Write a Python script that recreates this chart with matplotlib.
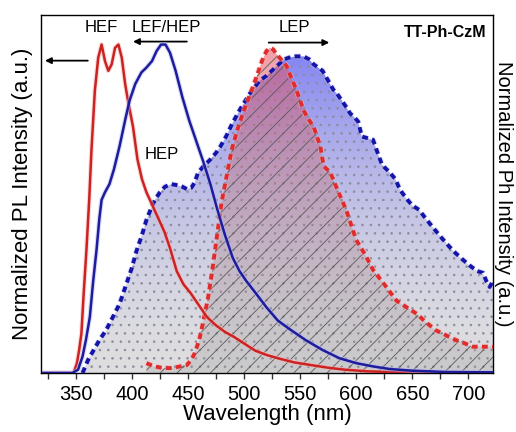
import numpy as np
import matplotlib.pyplot as plt
import matplotlib.patheffects as pe

plt.rcParams['font.family'] = ['Liberation Sans', 'DejaVu Sans']
plt.rcParams['hatch.linewidth'] = 0.6

# PL, fluorescence (red solid, HEF)
wl_hef = [320, 348, 351, 353, 355, 357, 359.5, 362, 364, 367, 370, 373, 376, 379, 382, 385, 388,
          391, 394, 397, 401, 405, 409, 413, 417, 421, 425, 429, 434, 440, 446, 452, 459, 467,
          475, 483, 491, 500, 510, 520, 530, 545, 560, 575, 590, 610, 640, 680, 722]
pl_hef = [0, 0, 0.03, 0.07, 0.12, 0.24, 0.375, 0.53, 0.68, 0.86, 0.96, 1.0, 0.95, 0.92, 0.94, 0.99, 1.0,
          0.96, 0.88, 0.82, 0.75, 0.65, 0.59, 0.55, 0.52, 0.49, 0.46, 0.43, 0.38, 0.31, 0.27, 0.245, 0.21, 0.17,
          0.145, 0.125, 0.11, 0.09, 0.068, 0.055, 0.045, 0.032, 0.024, 0.016, 0.01, 0.005, 0.002, 0.0, 0.0]

# PL (blue solid, LEF/HEP)
wl_lef = [320, 347, 352, 356, 359, 362.5, 365.5, 368.5, 371, 373, 376, 380, 384, 389, 394, 398, 403,
          408.5, 413, 418, 422, 426, 430, 434, 439, 445, 451, 458, 464, 470, 476, 483, 490, 496, 502,
          510, 520, 530, 540, 555, 570, 585, 600, 615, 630, 650, 680, 722]
pl_lef = [0, 0, 0.01, 0.05, 0.1, 0.17, 0.28, 0.375, 0.47, 0.527, 0.55, 0.575, 0.62, 0.69, 0.77, 0.83, 0.88,
          0.915, 0.93, 0.95, 0.98, 1.0, 1.0, 0.975, 0.92, 0.84, 0.77, 0.70, 0.64, 0.575, 0.50, 0.42, 0.35, 0.31, 0.28,
          0.245, 0.2, 0.16, 0.135, 0.10, 0.07, 0.045, 0.03, 0.02, 0.012, 0.007, 0.003, 0.002]

# phosphorescence (blue dashed, HEP + LEP)
wl_ph_b = [356, 361, 366, 371, 377, 383, 389, 395, 400, 404, 409, 413, 417, 420.5, 425, 429.5, 435, 440,
           445, 449, 453, 456, 459, 464, 470, 475, 479, 484, 489, 496, 505, 514, 520, 526, 531, 535, 540,
           546, 553, 558, 562, 566, 570, 575, 579.5, 583, 587, 591, 594.6, 598, 601.8, 605, 610, 615,
           619.6, 623, 630, 635, 639, 645, 650, 656, 662, 668, 674, 680, 687, 695, 702, 708, 713, 716, 719, 722]
ph_b = [0, 0.04, 0.07, 0.10, 0.13, 0.17, 0.21, 0.27, 0.32, 0.37, 0.42, 0.466, 0.50, 0.527, 0.55, 0.567, 0.575, 0.572,
        0.567, 0.56, 0.564, 0.58, 0.61, 0.63, 0.65, 0.67, 0.69, 0.72, 0.756, 0.80, 0.85, 0.89, 0.905, 0.924, 0.94, 0.954, 0.96,
        0.964, 0.964, 0.955, 0.94, 0.93, 0.92, 0.89, 0.863, 0.85, 0.83, 0.81, 0.79, 0.78, 0.765, 0.72, 0.715, 0.71,
        0.665, 0.634, 0.61, 0.59, 0.558, 0.53, 0.51, 0.497, 0.47, 0.445, 0.42, 0.396, 0.37, 0.345, 0.325, 0.31, 0.305, 0.28, 0.262, 0.28]

# phosphorescence (red dashed, LEP)
wl_ph_r = [413, 420, 428, 436, 443, 449, 453, 456, 458, 460, 462, 465, 468, 472, 476, 480, 484.5, 489, 494,
           501, 507, 512, 516, 520, 523, 526, 529, 533, 538, 542, 546, 550, 553, 558, 562, 568, 571, 577, 583,
           591, 600, 608, 615, 625, 636, 645, 654, 662, 671, 680, 689, 697, 704, 712, 719, 722]
ph_r = [0.03, 0.02, 0.015, 0.015, 0.02, 0.024, 0.04, 0.06, 0.08, 0.1, 0.13, 0.18, 0.23, 0.32, 0.42, 0.52, 0.60, 0.68, 0.74,
        0.81, 0.863, 0.91, 0.95, 0.98, 0.99, 0.985, 0.97, 0.955, 0.934, 0.9, 0.868, 0.83, 0.80, 0.77, 0.75, 0.69, 0.63, 0.61, 0.56,
        0.497, 0.405, 0.36, 0.314, 0.27, 0.22, 0.2, 0.18, 0.155, 0.13, 0.115, 0.10, 0.09, 0.08, 0.08, 0.08, 0.08]

RED = '#cc2222'
BLUE = '#1c1c9c'

fig = plt.figure(figsize=(5.16, 4.32), dpi=100)
ax = fig.add_axes([0.0795, 0.1366, 0.876, 0.8287])


def gradient_fill(x, y, c_top, c_bot, z, power=1.0):
    poly = ax.fill_between(x, y, 0, facecolor='none', edgecolor='none', zorder=z)
    t = np.linspace(0, 1, 200) ** power
    img = np.zeros((200, 1, 4))
    for i in range(4):
        img[:, 0, i] = c_bot[i] + (c_top[i] - c_bot[i]) * t
    im = ax.imshow(img, extent=[x[0], x[-1], 0, 1.0], origin='lower', aspect='auto',
                   zorder=z, interpolation='bilinear')
    im.set_clip_path(poly.get_paths()[0], transform=ax.transData)


# blue phosphorescence fill + dots
gradient_fill(wl_ph_b, ph_b, (0.50, 0.50, 0.96, 1.0), (0.87, 0.87, 0.88, 1.0), 1, power=1.8)
ax.fill_between(wl_ph_b, ph_b, 0, facecolor='none', edgecolor=(0.55, 0.55, 0.62),
                linewidth=0, hatch='..', zorder=2)

# red phosphorescence fill + diagonal hatch
gradient_fill(wl_ph_r, ph_r, (0.93, 0.30, 0.35, 0.55), (0.6, 0.6, 0.6, 0.28), 3, power=1.3)
ax.fill_between(wl_ph_r, ph_r, 0, facecolor='none', edgecolor=(0.35, 0.35, 0.35),
                linewidth=0, hatch='//', zorder=4)

glow_b = [pe.Stroke(linewidth=4.2, foreground='#c0c0f5', alpha=0.5), pe.Normal()]
glow_r = [pe.Stroke(linewidth=4.2, foreground='#f5b8b8', alpha=0.5), pe.Normal()]

ax.plot(wl_ph_b, ph_b, color='#1414a8', lw=2.8, ls=(0, (1.5, 1.1)), zorder=5, path_effects=glow_b)
ax.plot(wl_ph_r, ph_r, color='#e02c2c', lw=2.8, ls=(0, (1.5, 1.1)), zorder=5, path_effects=glow_r)

glow_b2 = [pe.Stroke(linewidth=3.4, foreground='#b8b8f0', alpha=0.5), pe.Normal()]
glow_r2 = [pe.Stroke(linewidth=3.4, foreground='#f5b8b8', alpha=0.5), pe.Normal()]
ax.plot(wl_hef, pl_hef, color=RED, lw=1.8, zorder=6, path_effects=glow_r2)
ax.plot(wl_lef, pl_lef, color=BLUE, lw=1.8, zorder=6, path_effects=glow_b2)

# labels and arrows
ax.text(372.3, 1.052, 'HEF', fontsize=12, ha='center', va='center')
ax.text(430.4, 1.052, 'LEF/HEP', fontsize=12, ha='center', va='center')
ax.text(426.8, 0.665, 'HEP', fontsize=12, ha='center', va='center', zorder=7)
ax.text(544.6, 1.052, 'LEP', fontsize=12, ha='center', va='center')
ax.text(716, 1.038, 'TT-Ph-CzM', fontsize=11.5, fontweight='bold', ha='right', va='center')

arrow = dict(arrowstyle='-|>', color='black', lw=1.3, mutation_scale=9, shrinkA=0, shrinkB=0)
ax.annotate('', xy=(401, 1.009), xytext=(449, 1.009), arrowprops=arrow)
ax.annotate('', xy=(322.5, 0.951), xytext=(360.7, 0.951), arrowprops=arrow)
ax.annotate('', xy=(576, 1.006), xytext=(522, 1.006), arrowprops=arrow)

ax.set_xlim(319, 722)
ax.set_ylim(0, 1.09)
ax.set_xticks(np.arange(350, 701, 50))
ax.set_xticks(np.arange(325, 721, 25), minor=True)
ax.set_yticks([])
ax.tick_params(axis='x', which='both', direction='out', length=4, width=1,
               labelsize=14.5, pad=5, color='#333333')
for s in ax.spines.values():
    s.set_color('#333333')
    s.set_linewidth(1.0)

ax.set_xlabel('Wavelength (nm)', fontsize=16, labelpad=0)
ax.set_ylabel('Normalized PL Intensity (a.u.)', fontsize=16, labelpad=6)

ax2 = ax.twinx()
ax2.set_ylim(0, 1.09)
ax2.set_yticks([])
ax2.set_ylabel('Normalized Ph Intensity (a.u.)', fontsize=14.5, rotation=270,
               va='bottom', labelpad=1)

fig.savefig('out.png', dpi=100)
